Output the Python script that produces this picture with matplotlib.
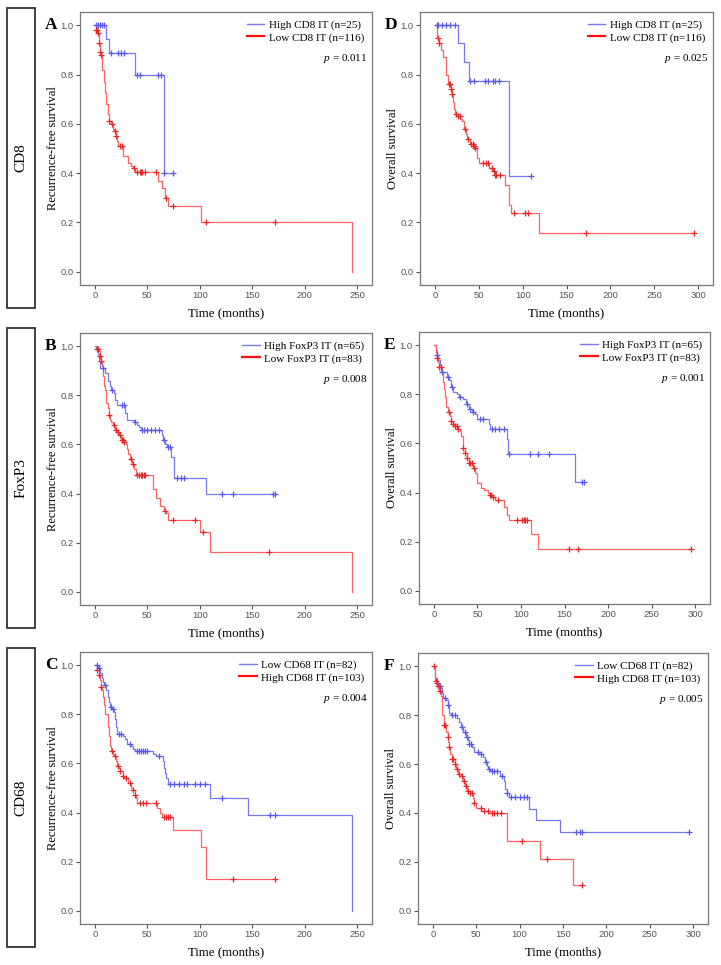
import numpy as np
import matplotlib.pyplot as plt
from matplotlib.patches import Rectangle
from matplotlib.lines import Line2D

plt.rcParams['mathtext.fontset'] = 'custom'
plt.rcParams['mathtext.rm'] = 'Liberation Serif'
plt.rcParams['mathtext.it'] = 'Liberation Serif:italic'

# ---- data: event times (months) and survival after each event, plus censor times ----
# A: CD8, recurrence-free
A_hi_t = [10.5, 13.4, 38.5, 66]
A_hi_s = [0.944, 0.889, 0.80, 0.40]
A_hi_c = [1, 3, 5, 7, 9, 15, 22, 25, 28, 40, 43, 60, 63, 66, 74]
A_lo_t = [1, 3, 4, 5, 6, 7, 9, 10, 11, 12, 13, 15, 17, 18, 20, 21, 22, 27, 32, 34, 36, 38, 60, 64, 67, 70, 101, 245]
A_lo_s = [0.98, 0.97, 0.93, 0.89, 0.88, 0.82, 0.77, 0.73, 0.68, 0.64, 0.61, 0.60, 0.58, 0.57, 0.55, 0.53, 0.51, 0.47,
          0.44, 0.43, 0.42, 0.405, 0.37, 0.34, 0.30, 0.267, 0.20, 0.0]
A_lo_c = [1, 2, 3, 4, 5, 6, 13, 16, 19, 20, 24, 26, 37, 40, 43, 44, 45, 48, 58, 68, 74, 106, 172]

# D: CD8, overall
D_hi_t = [26.6, 33.5, 38.4, 84.5]
D_hi_s = [0.928, 0.85, 0.773, 0.388]
D_hi_c = [2, 4, 8, 13, 17, 23, 40, 45, 57, 61, 66, 68, 73, 110]
D_lo_t = [2, 5, 7, 9, 12, 13, 15, 18, 19, 20, 22, 23, 26, 29, 31, 33, 35, 37, 40, 44, 46, 48, 50, 62, 66, 68, 80, 84,
          87, 119]
D_lo_s = [0.95, 0.93, 0.90, 0.87, 0.83, 0.80, 0.76, 0.74, 0.72, 0.69, 0.66, 0.64, 0.63, 0.62, 0.61, 0.58, 0.56, 0.54,
          0.52, 0.51, 0.50, 0.46, 0.44, 0.42, 0.41, 0.393, 0.35, 0.27, 0.237, 0.158]
D_lo_c = [3, 5, 16, 17, 18, 19, 24, 26, 28, 34, 38, 41, 43, 44, 45, 46, 55, 58, 60, 65, 67, 69, 70, 74, 90, 103, 106,
          172, 295]

# B: FoxP3, recurrence-free
B_hi_t = [1, 3, 4, 5, 10, 12, 14, 15, 18, 19, 21, 29, 31, 37, 40, 42, 44, 64, 65, 67, 69, 73, 75, 106]
B_hi_s = [0.99, 0.97, 0.94, 0.91, 0.89, 0.86, 0.84, 0.82, 0.81, 0.78, 0.76, 0.73, 0.70, 0.69, 0.68, 0.67, 0.66, 0.64,
          0.62, 0.60, 0.59, 0.55, 0.463, 0.398]
B_hi_c = [8, 16, 26, 28, 38, 45, 47, 50, 53, 57, 61, 66, 70, 72, 78, 82, 85, 121, 132, 170, 172]
B_lo_t = [2, 4, 5, 6, 7, 8, 9, 10, 11, 12, 13, 14, 15, 17, 19, 21, 23, 25, 28, 30, 31, 32, 33, 35, 37, 39, 55, 58, 62,
          66, 68, 70, 100, 110, 245]
B_lo_s = [0.99, 0.98, 0.96, 0.94, 0.92, 0.88, 0.84, 0.82, 0.77, 0.75, 0.72, 0.70, 0.69, 0.68, 0.66, 0.65, 0.64, 0.62,
          0.61, 0.60, 0.58, 0.56, 0.54, 0.52, 0.50, 0.474, 0.42, 0.38, 0.35, 0.33, 0.32, 0.291, 0.244, 0.163, 0.0]
B_lo_c = [2, 3, 5, 6, 13, 18, 20, 22, 24, 26, 27, 28, 34, 36, 40, 42, 44, 45, 47, 48, 67, 74, 95, 103, 166]

# E: FoxP3, overall
E_hi_t = [2, 3, 5, 7, 8, 15, 17, 20, 22, 26, 29, 34, 37, 40, 44, 47, 50, 63, 65, 84, 85, 162]
E_hi_s = [0.98, 0.96, 0.94, 0.92, 0.89, 0.87, 0.86, 0.83, 0.81, 0.80, 0.79, 0.78, 0.76, 0.74, 0.73, 0.72, 0.70, 0.68,
          0.658, 0.62, 0.556, 0.445]
E_hi_c = [4, 9, 16, 21, 30, 38, 42, 45, 53, 56, 67, 70, 75, 80, 86, 110, 120, 132, 170, 172]
E_lo_t = [2, 3, 5, 6, 9, 11, 12, 13, 14, 16, 18, 20, 22, 24, 28, 30, 31, 33, 34, 36, 38, 40, 45, 47, 49, 50, 54, 58, 62,
          64, 67, 70, 81, 84, 86, 111, 119]
E_lo_s = [0.97, 0.95, 0.93, 0.91, 0.89, 0.85, 0.82, 0.79, 0.75, 0.73, 0.71, 0.69, 0.68, 0.67, 0.66, 0.65, 0.63, 0.60,
          0.58, 0.56, 0.54, 0.52, 0.50, 0.48, 0.46, 0.44, 0.42, 0.41, 0.40, 0.39, 0.38, 0.371, 0.34, 0.31, 0.288, 0.23,
          0.172]
E_lo_c = [4, 6, 8, 17, 20, 22, 24, 26, 28, 34, 36, 38, 40, 42, 44, 46, 64, 66, 68, 74, 95, 101, 103, 105, 107, 155, 166,
          295]

# C: CD68, recurrence-free
C_lo_t = [3, 5, 7, 8, 9, 11, 12, 13, 14, 16, 18, 19, 20, 21, 27, 29, 31, 34, 36, 38, 55, 58, 65, 66, 67, 68, 70, 110,
          146, 245]
C_lo_s = [0.99, 0.97, 0.95, 0.93, 0.92, 0.90, 0.87, 0.85, 0.83, 0.82, 0.81, 0.78, 0.75, 0.72, 0.71, 0.70, 0.68, 0.67,
          0.66, 0.65, 0.64, 0.63, 0.61, 0.58, 0.56, 0.54, 0.516, 0.459, 0.392, 0.0]
C_lo_c = [2, 4, 10, 15, 17, 23, 25, 33, 40, 42, 44, 46, 48, 50, 61, 72, 75, 80, 85, 88, 95, 100, 105, 121, 167, 172]
C_hi_t = [2, 4, 5, 6, 7, 8, 9, 10, 12, 13, 14, 15, 17, 18, 20, 21, 23, 24, 27, 28, 32, 34, 36, 38, 39, 40, 59, 62, 64,
          74, 101, 106]
C_hi_s = [0.98, 0.96, 0.94, 0.91, 0.90, 0.87, 0.84, 0.80, 0.75, 0.71, 0.67, 0.65, 0.64, 0.63, 0.61, 0.59, 0.58, 0.57,
          0.55, 0.54, 0.52, 0.50, 0.49, 0.47, 0.46, 0.438, 0.42, 0.40, 0.383, 0.327, 0.261, 0.131]
C_hi_c = [2, 4, 6, 16, 19, 22, 24, 27, 30, 33, 36, 38, 43, 46, 49, 58, 66, 68, 70, 72, 132, 172]

# F: CD68, overall
F_lo_t = [2, 3, 5, 7, 9, 10, 12, 15, 17, 19, 21, 28, 30, 33, 35, 38, 40, 42, 45, 47, 55, 58, 60, 62, 64, 66, 77, 82,
          83, 85, 88, 111, 119, 146]
F_lo_s = [0.98, 0.95, 0.93, 0.92, 0.91, 0.89, 0.87, 0.86, 0.84, 0.81, 0.80, 0.79, 0.77, 0.75, 0.73, 0.71, 0.70, 0.68,
          0.67, 0.65, 0.64, 0.63, 0.61, 0.59, 0.58, 0.57, 0.55, 0.53, 0.50, 0.48, 0.464, 0.418, 0.373, 0.322]
F_lo_c = [5, 8, 14, 18, 22, 25, 34, 37, 39, 42, 44, 52, 56, 61, 65, 68, 70, 74, 80, 85, 90, 95, 100, 105, 108, 165, 170,
          172, 295]
F_hi_t = [2, 3, 5, 7, 9, 10, 11, 13, 15, 17, 18, 19, 20, 22, 25, 27, 29, 32, 35, 37, 39, 41, 46, 48, 50, 56, 64, 85,
          123, 162]
F_hi_s = [0.97, 0.94, 0.92, 0.90, 0.88, 0.84, 0.80, 0.76, 0.73, 0.71, 0.69, 0.67, 0.64, 0.62, 0.60, 0.58, 0.56, 0.55,
          0.53, 0.51, 0.49, 0.48, 0.46, 0.44, 0.42, 0.41, 0.40, 0.285, 0.213, 0.105]
F_hi_c = [1, 4, 6, 8, 13, 14, 17, 19, 22, 23, 26, 28, 30, 34, 36, 38, 40, 43, 45, 48, 55, 59, 63, 68, 70, 74, 78, 103,
          132, 172]

row_names = ['CD8', 'FoxP3', 'CD68']
BLUE_LINE, BLUE_MARK = '#7878f4', '#5a5ae8'
RED_LINE, RED_MARK = '#ff6464', '#e82828'

W, H = 721, 965
fig = plt.figure(figsize=(W / 100, H / 100), dpi=100)
SERIF = 'Liberation Serif'
SANS = 'Liberation Sans'


def px_axes(x0, y0, x1, y1):
    return fig.add_axes([x0 / W, 1 - y1 / H, (x1 - x0) / W, (y1 - y0) / H])


def step_curve(ax, t, s, cens, line_c, mark_c):
    t = np.asarray(t, float)
    s = np.asarray(s, float)
    end = max(t.max(), max(cens))
    xs = np.concatenate([[0], t, [end]])
    ys = np.concatenate([[1.0], s, [s[-1]]])
    ax.step(xs, ys, where='post', color=line_c, lw=0.9, zorder=2)
    c = np.asarray(cens, float)
    idx = np.searchsorted(t, c, side='right') - 1
    cy = np.where(idx >= 0, s[np.clip(idx, 0, None)], 1.0)
    ax.plot(c, cy, ls='none', marker='+', ms=5, mew=0.9, color=mark_c, zorder=3)


panels = [
    # letter, box, xmax, ylabel, blue, red, labels, p
    ('A', (80, 12, 372, 285), 250, 'Recurrence-free survival',
     (A_hi_t, A_hi_s, A_hi_c), (A_lo_t, A_lo_s, A_lo_c),
     ('High CD8 IT (n=25)', 'Low CD8 IT (n=116)'), '0.011'),
    ('D', (420, 12, 713, 285), 300, 'Overall survival',
     (D_hi_t, D_hi_s, D_hi_c), (D_lo_t, D_lo_s, D_lo_c),
     ('High CD8 IT (n=25)', 'Low CD8 IT (n=116)'), '0.025'),
    ('B', (80, 333, 372, 605), 250, 'Recurrence-free survival',
     (B_hi_t, B_hi_s, B_hi_c), (B_lo_t, B_lo_s, B_lo_c),
     ('High FoxP3 IT (n=65)', 'Low FoxP3 IT (n=83)'), '0.008'),
    ('E', (419, 332, 710, 604), 300, 'Overall survival',
     (E_hi_t, E_hi_s, E_hi_c), (E_lo_t, E_lo_s, E_lo_c),
     ('High FoxP3 IT (n=65)', 'Low FoxP3 IT (n=83)'), '0.001'),
    ('C', (80, 652, 372, 924), 250, 'Recurrence-free survival',
     (C_lo_t, C_lo_s, C_lo_c), (C_hi_t, C_hi_s, C_hi_c),
     ('Low CD68 IT (n=82)', 'High CD68 IT (n=103)'), '0.004'),
    ('F', (418, 653, 708, 924), 300, 'Overall survival',
     (F_lo_t, F_lo_s, F_lo_c), (F_hi_t, F_hi_s, F_hi_c),
     ('Low CD68 IT (n=82)', 'High CD68 IT (n=103)'), '0.005'),
]

for letter, (x0, y0, x1, y1), xmax, ylab, blue, red, labs, p in panels:
    ax = px_axes(x0, y0, x1, y1)
    step_curve(ax, *blue, BLUE_LINE, BLUE_MARK)
    step_curve(ax, *red, RED_LINE, RED_MARK)
    pad = xmax * 0.057
    ax.set_xlim(-pad, xmax + pad)
    ax.set_ylim(-0.054, 1.054)
    ax.set_xticks(np.arange(0, xmax + 1, 50))
    ax.set_yticks(np.arange(0, 1.01, 0.2))
    ax.set_yticklabels([f'{v:.1f}' for v in np.arange(0, 1.01, 0.2)])
    ax.tick_params(labelsize=6.8, colors='#555555', length=3, width=0.8, pad=1.5)
    for lab in ax.get_xticklabels() + ax.get_yticklabels():
        lab.set_fontfamily(SANS)
    for sp in ax.spines.values():
        sp.set_color('#777777')
        sp.set_linewidth(0.9)
    ax.set_xlabel('Time (months)', fontfamily=SERIF, fontsize=9.3, labelpad=5)
    ax.set_ylabel(ylab, fontfamily=SERIF, fontsize=9, labelpad=1)
    handles = [Line2D([], [], color=BLUE_LINE, lw=1.0), Line2D([], [], color='#ff1010', lw=1.6)]
    ax.legend(handles, labs, loc='upper right', frameon=False, prop={'family': SERIF, 'size': 8},
              handlelength=1.6, handletextpad=0.4, borderaxespad=0.3, labelspacing=0.25)
    ax.text(0.985, 0.83, r'$p$ = ' + p, transform=ax.transAxes, ha='right', va='center',
            fontfamily=SERIF, fontsize=8)
    fig.text((x0 - 29) / W, 1 - (y0 + 13) / H, letter, fontfamily=SERIF, fontweight='bold',
             fontsize=12.5, ha='center', va='center')

# row label boxes
boxes = [(8, 308), (328, 628), (648, 947)]
for name, (b0, b1) in zip(row_names, boxes):
    fig.patches.append(Rectangle((7 / W, 1 - b1 / H), 28 / W, (b1 - b0) / H, transform=fig.transFigure,
                                 fill=False, ec='#333333', lw=1.3))
    fig.text(21 / W, 1 - (b0 + b1) / 2 / H, name, rotation=90, ha='center', va='center',
             fontfamily=SERIF, fontsize=11)

fig.savefig('out.png', dpi=100)
